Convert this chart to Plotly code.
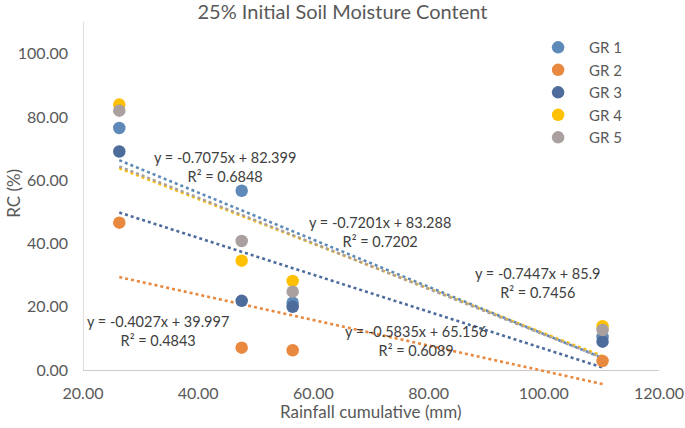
import plotly.graph_objects as go

# ---- data ----
rainfall = [26.3, 47.55, 56.4, 110.2]
series_names = ["GR 1", "GR 2", "GR 3", "GR 4", "GR 5"]
gr1 = [76.5, 56.7, 21.3, 10.5]
gr2 = [46.6, 7.1, 6.3, 2.9]
gr3 = [69.1, 21.9, 20.0, 9.0]
gr4 = [83.9, 34.6, 28.2, 13.9]
gr5 = [82.0, 40.8, 24.8, 12.7]
series_values = [gr1, gr2, gr3, gr4, gr5]
# linear trendline coefficients (as printed on the chart)
trend_slopes = [-0.7447, -0.4027, -0.5835, -0.7075, -0.7201]
trend_intercepts = [85.9, 39.997, 65.156, 82.399, 83.288]
trend_r2 = [0.7456, 0.4843, 0.6089, 0.6848, 0.7202]
y_tick_values = [0, 20, 40, 60, 80, 100]
x_tick_values = [20, 40, 60, 80, 100, 120]

colors = ["#5E8AB9", "#E8893F", "#4D6C9B", "#FFC000", "#A9A09F"]
label_pos = [(99.0, 27.7), (33.0, 12.5), (77.8, 9.2), (44.65, 64.3), (71.6, 43.6)]

FONT = "Lato"
TXT = "#595959"

fig = go.Figure()

# trendlines first (below markers)
for i, name in enumerate(series_names):
    xs = [min(rainfall), max(rainfall)]
    ys = [trend_slopes[i] * x + trend_intercepts[i] for x in xs]
    fig.add_trace(go.Scatter(
        x=xs, y=ys, mode="lines",
        line=dict(color=colors[i], width=2.6, dash="dot"),
        showlegend=False, hoverinfo="skip"))

for i, name in enumerate(series_names):
    fig.add_trace(go.Scatter(
        x=rainfall, y=series_values[i], mode="markers", name=name,
        marker=dict(color=colors[i], size=12.5)))

for i in range(len(series_names)):
    txt = f"y = {trend_slopes[i]}x + {trend_intercepts[i]}<br>R² = {trend_r2[i]}"
    fig.add_annotation(x=label_pos[i][0], y=label_pos[i][1], xref="x", yref="y",
                       text=txt, showarrow=False, align="center",
                       font=dict(family=FONT, size=14.5, color="#404040"))

# axis titles
fig.add_annotation(x=0.5, y=-0.069, xref="paper", yref="paper",
                   text="Rainfall cumulative (mm)", showarrow=False,
                   xanchor="center", yanchor="middle",
                   font=dict(family=FONT, size=17, color=TXT))
fig.add_annotation(x=-0.122, y=0.53, xref="paper", yref="paper",
                   text="RC (%)", showarrow=False, textangle=-90,
                   xanchor="center", yanchor="middle",
                   font=dict(family=FONT, size=17, color=TXT))

# left axis line (from 0 to top)
fig.add_shape(type="line", xref="x", yref="y", x0=20, x1=20, y0=0, y1=110,
              line=dict(color="#D0C9C9", width=1.3), layer="below")

fig.update_layout(
    width=685, height=428,
    margin=dict(l=83, r=26, t=22, b=42),
    paper_bgcolor="white", plot_bgcolor="white",
    font=dict(family=FONT, size=16, color=TXT),
    title=dict(text="25% Initial Soil Moisture Content", x=0.5, xanchor="center",
               y=0.972, yanchor="middle", font=dict(family=FONT, size=20, color=TXT)),
    showlegend=True,
    legend=dict(x=0.771, y=0.975, xanchor="left", yanchor="top",
                font=dict(family=FONT, size=15, color=TXT),
                bgcolor="rgba(0,0,0,0)", tracegroupgap=0, itemwidth=52),
    xaxis=dict(range=[20, 120], tickvals=x_tick_values, tickformat=".2f",
               showgrid=False, zeroline=False, showline=False, ticks="",
               ticklabelstandoff=-4, automargin=False,
               tickfont=dict(family=FONT, size=16, color=TXT)),
    yaxis=dict(range=[-5, 110], tickvals=y_tick_values, tickformat=".2f",
               showgrid=False, zeroline=True, zerolinecolor="#D0C9C9", zerolinewidth=1.3,
               showline=False, ticks="", ticklabelstandoff=14, automargin=False,
               tickfont=dict(family=FONT, size=16, color=TXT)),
)

fig.write_html("out.html",
               config={"displayModeBar": False},
               post_script="document.body.style.margin='0';document.body.style.padding='0';"
                           "document.body.style.overflow='hidden';")
